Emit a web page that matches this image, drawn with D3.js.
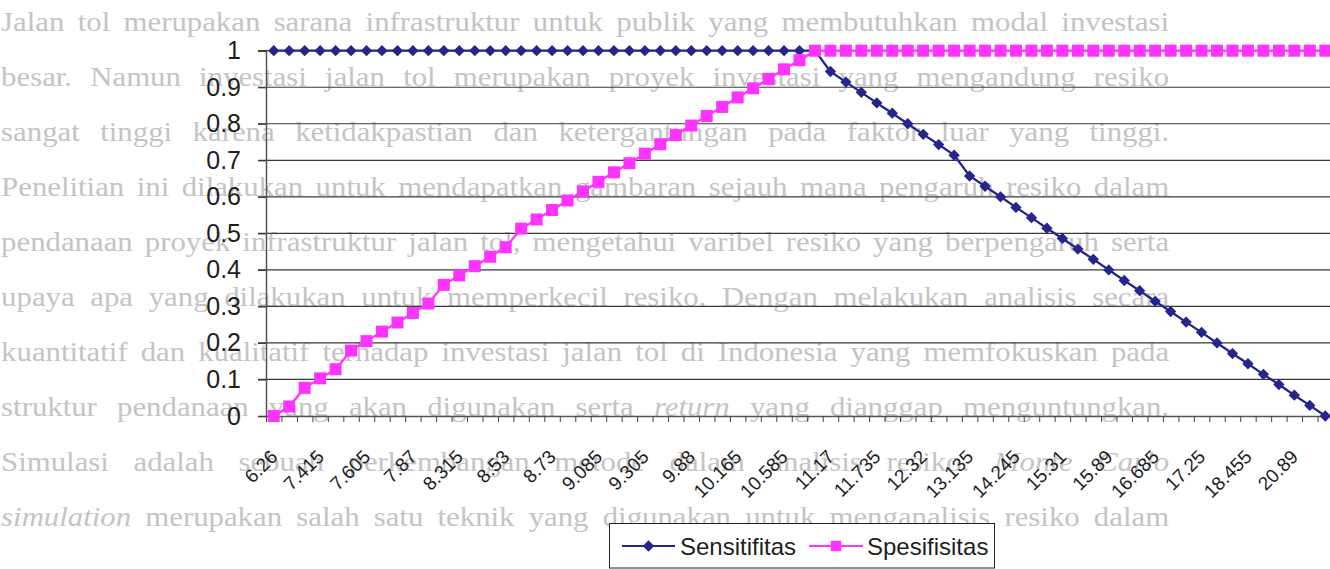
<!DOCTYPE html>
<html>
<head>
<script src="https://d3js.org/d3.v7.min.js"></script>
<style>
  body { margin: 0; background: #fff; }
  svg { display: block; font-family: "Liberation Sans", Arial, sans-serif; }
</style>
</head>
<body>
<svg id="chart" width="1330" height="569"></svg>
<script>
// x labels, only every 3rd category carries one
var tickLabels = ["6.26", "7.415", "7.605", "7.87", "8.315", "8.53", "8.73", "9.085", "9.305",
  "9.88", "10.165", "10.585", "11.17", "11.735", "12.32", "13.135", "14.245", "15.31",
  "15.89", "16.685", "17.25", "18.455", "20.89"];
var labelEvery = 3;

var sensitifitas = [
  1, 1, 1, 1, 1, 1, 1, 1, 1, 1, 1, 1, 1, 1, 1, 1, 1, 1,
  1, 1, 1, 1, 1, 1, 1, 1, 1, 1, 1, 1, 1, 1, 1, 1, 1, 1,
  0.943, 0.914, 0.886, 0.857, 0.829, 0.8, 0.771, 0.743, 0.714, 0.657, 0.629,
  0.6, 0.571, 0.543, 0.514, 0.486, 0.457, 0.429, 0.4, 0.371, 0.343, 0.314,
  0.286, 0.257, 0.229, 0.2, 0.171, 0.143, 0.114, 0.086, 0.057, 0.029, 0
];
var spesifisitas = [
  0, 0.026, 0.077, 0.103, 0.128, 0.179, 0.205, 0.231, 0.256, 0.282, 0.308, 0.359,
  0.385, 0.41, 0.436, 0.462, 0.513, 0.538, 0.564, 0.59, 0.615, 0.641, 0.667, 0.692,
  0.718, 0.744, 0.769, 0.795, 0.821, 0.846, 0.872, 0.897, 0.923, 0.949, 0.974, 1,
  1, 1, 1, 1, 1, 1, 1, 1, 1, 1, 1, 1, 1, 1, 1, 1, 1, 1, 1, 1, 1,
  1, 1, 1, 1, 1, 1, 1, 1, 1, 1, 1, 1
];
var yTicks = [0, 0.1, 0.2, 0.3, 0.4, 0.5, 0.6, 0.7, 0.8, 0.9, 1];
var seriesNames = ["Sensitifitas", "Spesifisitas"];

// faded page text behind the chart (words in _x_ are italic)
var pageLines = [
  "Jalan tol merupakan sarana infrastruktur untuk publik yang membutuhkan modal investasi",
  "besar. Namun investasi jalan tol merupakan proyek investasi yang mengandung resiko",
  "sangat tinggi karena ketidakpastian dan ketergantungan pada faktor luar yang tinggi.",
  "Penelitian ini dilakukan untuk mendapatkan gambaran sejauh mana pengaruh resiko dalam",
  "pendanaan proyek infrastruktur jalan tol, mengetahui varibel resiko yang berpengaruh serta",
  "upaya apa yang dilakukan untuk memperkecil resiko. Dengan melakukan analisis secara",
  "kuantitatif dan kualitatif terhadap investasi jalan tol di Indonesia yang memfokuskan pada",
  "struktur pendanaan yang akan digunakan serta _return_ yang dianggap menguntungkan.",
  "Simulasi adalah sebuah perkembangan metode dalam analisis resiko. _Monte_ _Carlo_",
  "_simulation_ merupakan salah satu teknik yang digunakan untuk menganalisis resiko dalam"
];

var svg = d3.select("#chart");
var plotLeft = 266, plotRight = 1333, plotTop = 50.7, plotBottom = 416;

// ---- page text (scan is a bit stretched horizontally) ----
var stretch = 1.1;
var bg = svg.append("g")
  .attr("transform", "scale(" + stretch + ",1)")
  .attr("fill", "#c4c4c4")
  .style("font-family", "'Liberation Serif', 'Times New Roman', serif")
  .style("font-size", "28px");

pageLines.forEach(function(line, i) {
  var words = line.split(" ");
  var yy = 31 + i * 55;
  var nodes = words.map(function(w) {
    var italic = w.charAt(0) == "_";
    return bg.append("text")
      .attr("y", yy)
      .style("font-style", italic ? "italic" : "normal")
      .text(italic ? w.replace(/_/g, "") : w);
  });
  var total = 0;
  nodes.forEach(function(n) { total += n.node().getComputedTextLength(); });
  var gap = (1168 / stretch - total) / (words.length - 1);
  var xx = 1;
  nodes.forEach(function(n) {
    n.attr("x", xx);
    xx += n.node().getComputedTextLength() + gap;
  });
});

// ---- scales ----
var n = sensitifitas.length;
var x = d3.scaleBand().domain(d3.range(n)).range([plotLeft, plotRight]).paddingInner(0).paddingOuter(0);
var xb = d3.scaleLinear().domain([0, n]).range([plotLeft, plotRight]);
var y = d3.scaleLinear().domain([0, 1]).range([plotBottom, plotTop]);
var cx = function(i) { return x(i) + x.bandwidth() / 2; };

// gridlines
svg.append("g").selectAll("line")
  .data(yTicks.slice(1))
  .enter().append("line")
  .attr("x1", plotLeft - 8).attr("x2", plotRight)
  .attr("y1", function(d) { return y(d); })
  .attr("y2", function(d) { return y(d); })
  .attr("stroke", "#3a3a3a")
  .attr("stroke-width", 1.2);

// y axis
var yAxis = svg.append("g")
  .attr("transform", "translate(" + plotLeft + ",0)")
  .call(d3.axisLeft(y).tickValues(yTicks).tickSize(8).tickPadding(17).tickFormat(d3.format("")));
yAxis.select(".domain").attr("stroke", "#555").attr("stroke-width", 1.5);
yAxis.selectAll(".tick line").attr("stroke", "#3a3a3a").attr("stroke-width", 1.2);
yAxis.selectAll("text").style("font-size", "25px").attr("fill", "#1e1e1e");

// x axis ticks at category boundaries
var xTickAxis = svg.append("g")
  .attr("transform", "translate(0," + plotBottom + ")")
  .call(d3.axisBottom(xb).tickValues(d3.range(n + 1)).tickSize(6).tickSizeOuter(0).tickFormat(""));
xTickAxis.select(".domain").attr("stroke", "#555").attr("stroke-width", 1.5);
xTickAxis.selectAll(".tick line").attr("stroke", "#444");

// x labels
var xLabelAxis = svg.append("g")
  .attr("transform", "translate(0," + plotBottom + ")")
  .call(d3.axisBottom(x)
    .tickValues(d3.range(0, n, labelEvery))
    .tickSize(0)
    .tickFormat(function(i) { return tickLabels[i / labelEvery]; }));
xLabelAxis.select(".domain").remove();
xLabelAxis.selectAll("text")
  .attr("x", 0).attr("y", 0).attr("dy", 0)
  .attr("text-anchor", "end")
  .attr("transform", "translate(5,42) rotate(-45)")
  .style("font-size", "19px")
  .attr("fill", "#1e1e1e");

// ---- series ----
var line = d3.line()
  .x(function(d, i) { return cx(i); })
  .y(function(d) { return y(d); });

var blue = "#25258c", pink = "#ff33ff";
var diamond = d3.symbol(d3.symbolSquare, 64);
var square = d3.symbol(d3.symbolSquare, 144);

svg.append("path").datum(sensitifitas)
  .attr("d", line).attr("fill", "none").attr("stroke", blue).attr("stroke-width", 2.3);
svg.append("g").selectAll("path")
  .data(sensitifitas).enter().append("path")
  .attr("d", diamond)
  .attr("fill", blue)
  .attr("transform", function(d, i) { return "translate(" + cx(i) + "," + y(d) + ") rotate(45)"; });

svg.append("path").datum(spesifisitas)
  .attr("d", line).attr("fill", "none").attr("stroke", pink).attr("stroke-width", 2.3);
svg.append("g").selectAll("path")
  .data(spesifisitas).enter().append("path")
  .attr("d", square)
  .attr("fill", pink)
  .attr("transform", function(d, i) { return "translate(" + cx(i) + "," + y(d) + ")"; });

// ---- legend ----
var legend = svg.append("g");
legend.append("rect")
  .attr("x", 609.5).attr("y", 523.5).attr("width", 385).attr("height", 44.5)
  .attr("fill", "#fff").attr("stroke", "#222").attr("stroke-width", 1);

var legendItems = [
  {name: seriesNames[0], color: blue, sym: diamond, rot: 45, x0: 622, x1: 675, tx: 680},
  {name: seriesNames[1], color: pink, sym: d3.symbol(d3.symbolSquare, 110), rot: 0, x0: 809, x1: 863, tx: 867}
];
legendItems.forEach(function(it) {
  legend.append("line")
    .attr("x1", it.x0).attr("x2", it.x1).attr("y1", 546).attr("y2", 546)
    .attr("stroke", it.color).attr("stroke-width", 2);
  legend.append("path")
    .attr("d", it.sym)
    .attr("fill", it.color)
    .attr("transform", "translate(" + ((it.x0 + it.x1) / 2) + ",546) rotate(" + it.rot + ")");
  legend.append("text")
    .attr("x", it.tx).attr("y", 555)
    .style("font-size", "24px")
    .attr("fill", "#1e1e1e")
    .text(it.name);
});
</script>
</body>
</html>
